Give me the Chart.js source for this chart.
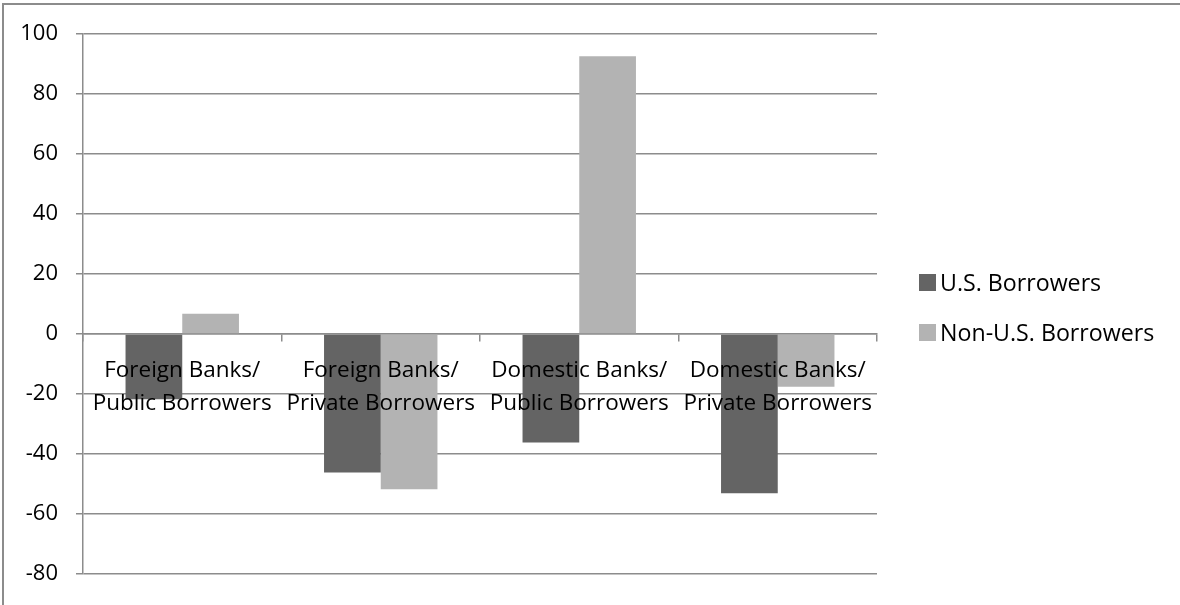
<!DOCTYPE html>
<html>
<head>
<meta charset="utf-8">
<script src="https://cdn.jsdelivr.net/npm/chart.js@4.4.1/dist/chart.umd.min.js"></script>
<style>
  html, body { margin: 0; padding: 0; background: #fff; }
  body { width: 1180px; height: 605px; position: relative; overflow: hidden; font-family: "Open Sans", sans-serif; }
  #frame { position: absolute; left: 2px; top: 3px; width: 1300px; height: 700px; border-left: 2px solid #8c8c8c; border-top: 2px solid #8c8c8c; }
  #wrap { position: absolute; left: 0; top: 0; width: 1180px; height: 605px; }
  #legend { position: absolute; left: 919px; top: 257px; }
  .item { display: flex; align-items: center; height: 50px; font-size: 23.2px; color: #000; white-space: nowrap; }
  .swatch { width: 17px; height: 17px; margin-right: 4px; flex: none; }
</style>
</head>
<body>
<div id="frame"></div>
<div id="wrap"><canvas id="chart" width="1180" height="605"></canvas></div>
<div id="legend"></div>
<script>
// categories (two-line labels) and the two series
const categories = [
    ['Foreign Banks/', 'Public Borrowers'],
    ['Foreign Banks/', 'Private Borrowers'],
    ['Domestic Banks/', 'Public Borrowers'],
    ['Domestic Banks/', 'Private Borrowers']
];
const usBorrowers = [-21.8, -46.2, -36.2, -53.1];
const nonUsBorrowers = [6.7, -51.8, 92.6, -17.6];
const seriesNames = ['U.S. Borrowers', 'Non-U.S. Borrowers'];
const seriesColors = ['#646464', '#b3b3b3'];
const yMin = -80;
const yMax = 100;
const yStep = 20;

const gridColor = '#8c8c8c';
const font = { family: 'Open Sans', size: 22.5 };

const chart = new Chart(document.getElementById('chart'), {
    type: 'bar',
    data: {
        labels: categories,
        datasets: [
            { label: seriesNames[0], data: usBorrowers, backgroundColor: seriesColors[0] },
            { label: seriesNames[1], data: nonUsBorrowers, backgroundColor: seriesColors[1] }
        ]
    },
    options: {
        responsive: false,
        animation: false,
        layout: { padding: { left: 3, top: 34, right: 303, bottom: 30 } },
        datasets: { bar: { categoryPercentage: 0.5714, barPercentage: 1 } },
        plugins: { legend: { display: false }, tooltip: { enabled: false } },
        scales: {
            x: {
                // axis sits on the zero line, labels go over the bars
                position: { y: 0 },
                grid: { drawOnChartArea: false, tickLength: 7, color: gridColor, lineWidth: 1.5, offset: true },
                border: { color: gridColor, width: 1.5 },
                ticks: {
                    z: 1,
                    color: '#000',
                    font: { ...font, lineHeight: 1.47 },
                    padding: 13,
                    maxRotation: 0,
                    autoSkip: false
                }
            },
            y: {
                min: yMin,
                max: yMax,
                afterFit: scale => { scale.width = 80; },
                grid: { color: gridColor, lineWidth: 1.5, tickLength: 7 },
                border: { color: gridColor, width: 1.5 },
                ticks: { stepSize: yStep, color: '#000', font: { ...font, size: 22 }, padding: 18 }
            }
        }
    }
});

// legend on the right, built from the same series names and colours
const legend = document.getElementById('legend');
seriesNames.forEach((name, i) => {
    const row = document.createElement('div');
    row.className = 'item';
    const sw = document.createElement('span');
    sw.className = 'swatch';
    sw.style.background = seriesColors[i];
    row.appendChild(sw);
    row.appendChild(document.createTextNode(name));
    legend.appendChild(row);
});
</script>
</body>
</html>
